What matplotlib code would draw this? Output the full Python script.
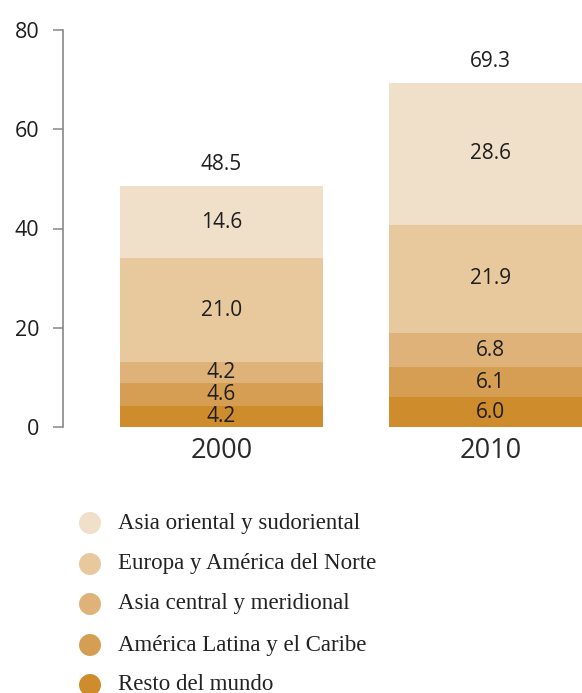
import matplotlib
matplotlib.use('Agg')
import matplotlib.pyplot as plt
import numpy as np

# Datos (millones)
years = ['2000', '2010']
regions = ['Asia oriental y sudoriental', 'Europa y América del Norte',
           'Asia central y meridional', 'América Latina y el Caribe',
           'Resto del mundo']
# de abajo hacia arriba
resto = [4.2, 6.0]
latina = [4.6, 6.1]
asia_central = [4.2, 6.8]
europa = [21.0, 21.9]
asia_oriental = [14.6, 28.6]
totals = [48.5, 69.3]

colors = {'Resto del mundo': '#ce8c2d',
          'América Latina y el Caribe': '#d69e52',
          'Asia central y meridional': '#dfb27a',
          'Europa y América del Norte': '#e8c99e',
          'Asia oriental y sudoriental': '#f0dfc9'}

stack = [('Resto del mundo', resto), ('América Latina y el Caribe', latina),
         ('Asia central y meridional', asia_central),
         ('Europa y América del Norte', europa),
         ('Asia oriental y sudoriental', asia_oriental)]

W, H = 582, 693
fig = plt.figure(figsize=(W / 100, H / 100), dpi=100)
ax = fig.add_axes([63 / W, 1 - 427 / H, 1 - 63 / W, (427 - 30) / H])

x = np.arange(len(years))
bottom = np.zeros(len(years))
for name, vals in stack:
    vals = np.array(vals)
    ax.bar(x, vals, width=0.755, bottom=bottom, color=colors[name], linewidth=0)
    for xi, b, v in zip(x, bottom, vals):
        ax.text(xi, b + v / 2, f'{v:.1f}', ha='center', va='center',
                fontsize=15, color='#1e1e1e', family='Open Sans')
    bottom += vals

for xi, t in zip(x, totals):
    ax.annotate(f'{t:.1f}', (xi, t), xytext=(0, 8), textcoords='offset points',
                ha='center', va='bottom', fontsize=15, color='#1e1e1e',
                family='Open Sans')

ax.set_xlim(-0.589, 1.340)
ax.set_ylim(0, 80)
ax.set_yticks([0, 20, 40, 60, 80])
ax.set_xticks(x)
ax.set_xticklabels(years)
for s in ['top', 'right', 'bottom']:
    ax.spines[s].set_visible(False)
ax.spines['left'].set_color('#888888')
ax.spines['left'].set_linewidth(1.2)
ax.tick_params(axis='y', length=7, width=1.1, color='#888888', pad=10,
               labelsize=15.5, labelcolor='#1e1e1e')
ax.tick_params(axis='x', length=0, pad=7, labelsize=19.5, labelcolor='#2a2a2a')
for lbl in ax.get_yticklabels() + ax.get_xticklabels():
    lbl.set_family('Open Sans')

# Leyenda dibujata manual, in coordonate pixel
lax = fig.add_axes([0, 0, 1, 1])
lax.set_xlim(0, W)
lax.set_ylim(H, 0)
lax.axis('off')
row_y = [523, 564, 604, 645, 685]
for yy, name in zip(row_y, regions):
    lax.scatter([90], [yy], s=250, color=colors[name], edgecolors='none')
    lax.text(118, yy, name, va='center', ha='left', fontsize=16.5,
             family='Liberation Serif', color='#222222')

fig.savefig('out.png', dpi=100)
